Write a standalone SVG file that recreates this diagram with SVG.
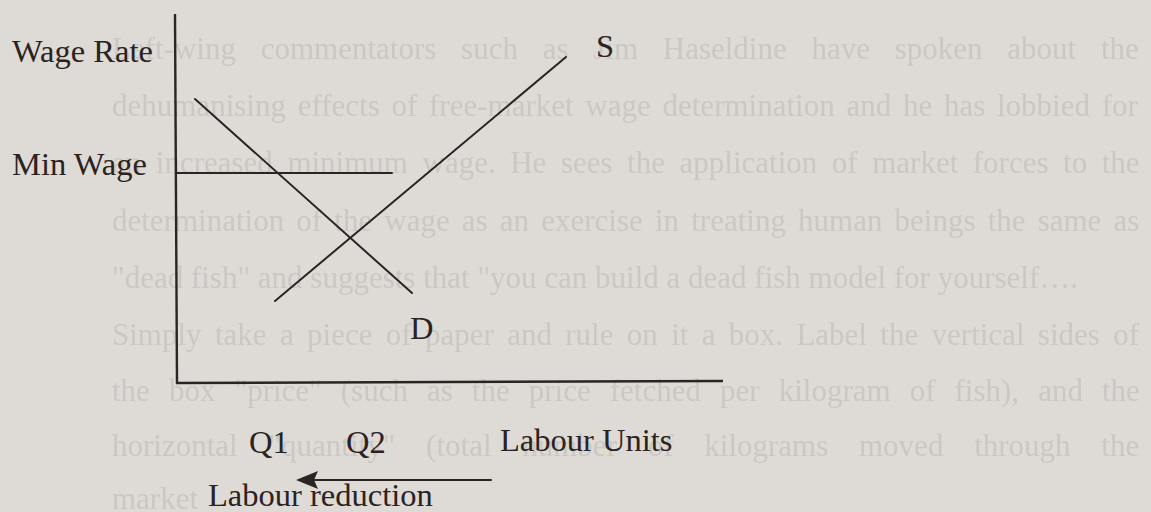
<svg xmlns="http://www.w3.org/2000/svg" width="1151" height="512" viewBox="0 0 1151 512">
<defs>
<style>
.bg{fill:#dedad6}
.ghost{font-family:"Liberation Serif","Times New Roman",serif;font-size:31px;fill:#cbc7c3}
.lbl{font-family:"Liberation Serif","Times New Roman",serif;font-size:32.5px;fill:#2a2321}
.ln{stroke:#2a2523;stroke-width:2;fill:none;stroke-linecap:round}
.ax{stroke:#2a2523;stroke-width:2.4;fill:none}
</style>
<filter id="soft" x="-2%" y="-20%" width="104%" height="140%">
<feGaussianBlur stdDeviation="0.6"/>
</filter>
<marker id="ah" markerUnits="userSpaceOnUse" markerWidth="22" markerHeight="18" viewBox="0 0 22 18" refX="18" refY="9" orient="auto">
<path d="M0,0 L22,9 L0,18 L4,9 z" fill="#2a2523"/>
</marker>
</defs>
<rect class="bg" x="0" y="0" width="1151" height="512"/>
<g id="background-text" filter="url(#soft)">
<text class="ghost" x="112" y="59" word-spacing="17">Left-wing commentators such as Jim Haseldine have spoken about the</text>
<text class="ghost" x="112" y="116" word-spacing="4">dehumanising effects of free-market wage determination and he has lobbied for</text>
<text class="ghost" x="112" y="173" word-spacing="6.8">an increased minimum wage. He sees the application of market forces to the</text>
<text class="ghost" x="112" y="231" word-spacing="4.4">determination of the wage as an exercise in treating human beings the same as</text>
<text class="ghost" x="112" y="288">"dead fish" and suggests that "you can build a dead fish model for yourself….</text>
<text class="ghost" x="112" y="345" word-spacing="5.6">Simply take a piece of paper and rule on it a box. Label the vertical sides of</text>
<text class="ghost" x="112" y="401" word-spacing="11.3">the box "price" (such as the price fetched per kilogram of fish), and the</text>
<text class="ghost" x="112" y="456" word-spacing="23">horizontal "quantity" (total number of kilograms moved through the</text>
<text class="ghost" x="112" y="509">market</text>
</g>
<g id="axes">
<line class="ax" x1="175" y1="14" x2="177" y2="384"/>
<line class="ax" x1="176" y1="383" x2="723" y2="381"/>
</g>
<g id="connectors">
<line id="min-wage-line" class="ln" x1="177" y1="173" x2="392" y2="173"/>
<line id="demand-curve" class="ln" x1="195" y1="99" x2="412" y2="293"/>
<line id="supply-curve" class="ln" x1="275" y1="301" x2="566" y2="57"/>
<line id="reduction-arrow" class="ln" x1="491" y1="480" x2="300" y2="480" marker-end="url(#ah)"/>
</g>
<g id="label-wage-rate"><text class="lbl" x="12" y="62">Wage Rate</text></g>
<g id="label-min-wage"><text class="lbl" x="12" y="175">Min Wage</text></g>
<g id="label-s"><text class="lbl" x="596" y="57">S</text></g>
<g id="label-d"><text class="lbl" x="410" y="339">D</text></g>
<g id="label-q1"><text class="lbl" x="249" y="453">Q1</text></g>
<g id="label-q2"><text class="lbl" x="346" y="453">Q2</text></g>
<g id="label-labour-units"><text class="lbl" x="500" y="451">Labour Units</text></g>
<g id="label-labour-reduction"><text class="lbl" x="208" y="506">Labour reduction</text></g>
</svg>
